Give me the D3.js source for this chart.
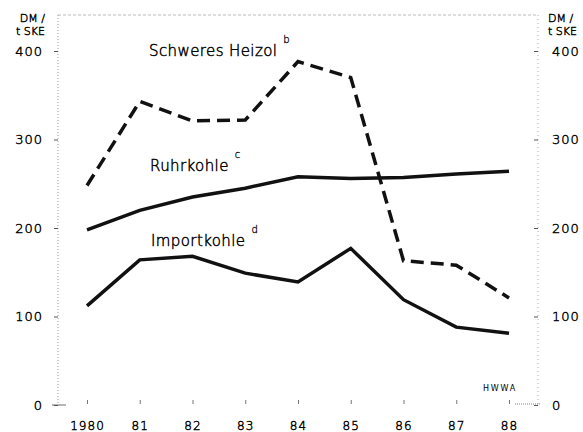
<!DOCTYPE html>
<html>
<head>
<meta charset="utf-8">
<script src="https://cdn.jsdelivr.net/npm/d3@7"></script>
<style>
  body { margin: 0; background: #fff; }
  svg text { font-family: "DejaVu Sans", sans-serif; font-weight: 200; fill: #000; stroke: #000; stroke-width: 0.45px; }
</style>
</head>
<body>
<div id="chart"></div>
<script>
const years = [1980, 1981, 1982, 1983, 1984, 1985, 1986, 1987, 1988];
const yearLabels = ["1980", "81", "82", "83", "84", "85", "86", "87", "88"];
const heizol = [248, 343, 321, 322, 388, 370, 163, 158, 121];
const ruhrkohle = [198, 220, 235, 245, 258, 256, 257, 261, 264];
const importkohle = [112, 164, 168, 149, 139, 177, 119, 88, 81];
const yTicks = [0, 100, 200, 300, 400];

const width = 583, height = 432;
const frame = { left: 58, right: 538, top: 15, bottom: 405 };

const svg = d3.select("#chart")
    .append("svg")
    .attr("width", width)
    .attr("height", height);

const x = d3.scalePoint()
    .domain(years)
    .range([87, 509]);

const y = d3.scaleLinear()
    .domain([0, 400])
    .range([frame.bottom, 51]);

// frame: faint dotted lines
svg.append("line")
    .attr("x1", frame.left).attr("x2", frame.left).attr("y1", frame.top).attr("y2", frame.bottom)
    .attr("stroke", "#888").attr("stroke-width", 0.8).attr("stroke-dasharray", "1,2");
svg.append("line")
    .attr("x1", frame.right).attr("x2", frame.right).attr("y1", frame.top).attr("y2", frame.bottom)
    .attr("stroke", "#999").attr("stroke-width", 0.8).attr("stroke-dasharray", "1,3");
svg.append("line")
    .attr("x1", frame.left).attr("x2", frame.right).attr("y1", frame.top).attr("y2", frame.top)
    .attr("stroke", "#aaa").attr("stroke-width", 0.8).attr("stroke-dasharray", "3,2");
svg.append("line")
    .attr("x1", frame.left - 6).attr("x2", frame.left + 8).attr("y1", frame.bottom).attr("y2", frame.bottom)
    .attr("stroke", "#444").attr("stroke-width", 0.8);
svg.append("line")
    .attr("x1", 515).attr("x2", frame.right + 3).attr("y1", frame.bottom - 1).attr("y2", frame.bottom - 1)
    .attr("stroke", "#666").attr("stroke-width", 0.8).attr("stroke-dasharray", "1,1");

// left axis
const yLeft = svg.append("g")
    .attr("transform", `translate(${frame.left},0)`)
    .call(d3.axisLeft(y).tickValues(yTicks).tickSize(4).tickPadding(11));
yLeft.select(".domain").remove();
yLeft.selectAll("line").attr("stroke", "#555");
yLeft.selectAll("text").style("font-size", "13px").style("letter-spacing", "1px");

// right axis
const yRight = svg.append("g")
    .attr("transform", `translate(${frame.right},0)`)
    .call(d3.axisRight(y).tickValues(yTicks).tickSize(4).tickPadding(10));
yRight.select(".domain").remove();
yRight.selectAll("line").attr("stroke", "#555").attr("x2", -4);
yRight.selectAll("text").style("font-size", "13px").style("letter-spacing", "1px");

// x axis
const xAxis = svg.append("g")
    .attr("transform", `translate(0,${frame.bottom - 5})`)
    .call(d3.axisBottom(x).tickSize(4).tickPadding(17).tickFormat((d, i) => yearLabels[i]));
xAxis.select(".domain").remove();
xAxis.selectAll("line").attr("stroke", "#777");
xAxis.selectAll("text").style("font-size", "12px").style("letter-spacing", "1px");

// unit labels
[[45, "end"], [548, "start"]].forEach(([tx, anchor]) => {
    svg.append("text").attr("x", tx).attr("y", 22).attr("text-anchor", anchor)
        .style("font-size", "11px").text("DM /");
    svg.append("text").attr("x", tx).attr("y", 35).attr("text-anchor", anchor)
        .style("font-size", "11px").text("t SKE");
});

// lines
const line = d3.line()
    .x((d, i) => x(years[i]))
    .y(d => y(d));

svg.append("path")
    .datum(heizol)
    .attr("fill", "none")
    .attr("stroke", "#111")
    .attr("stroke-width", 3.5)
    .attr("stroke-dasharray", "13,7")
    .attr("d", line);

svg.append("path")
    .datum(ruhrkohle)
    .attr("fill", "none")
    .attr("stroke", "#111")
    .attr("stroke-width", 3.5)
    .attr("d", line);

svg.append("path")
    .datum(importkohle)
    .attr("fill", "none")
    .attr("stroke", "#111")
    .attr("stroke-width", 3.5)
    .attr("d", line);

// series labels
const labels = [
    { text: "Schweres Heizol", sup: "b", x: 149, y: 56 },
    { text: "Ruhrkohle", sup: "c", x: 150, y: 171 },
    { text: "Importkohle", sup: "d", x: 151, y: 246 }
];
labels.forEach(l => {
    const t = svg.append("text")
        .attr("x", l.x).attr("y", l.y)
        .style("font-size", "15px")
        .style("letter-spacing", "0.4px")
        .text(l.text);
    t.append("tspan")
        .attr("dx", 6).attr("dy", -13)
        .style("font-size", "10px")
        .style("stroke-width", "0.3px")
        .text(l.sup);
});

svg.append("text")
    .attr("x", 483).attr("y", 391)
    .style("font-size", "8px")
    .style("font-weight", 400)
    .style("stroke", "none")
    .style("letter-spacing", "1.8px")
    .text("HWWA");
</script>
</body>
</html>
